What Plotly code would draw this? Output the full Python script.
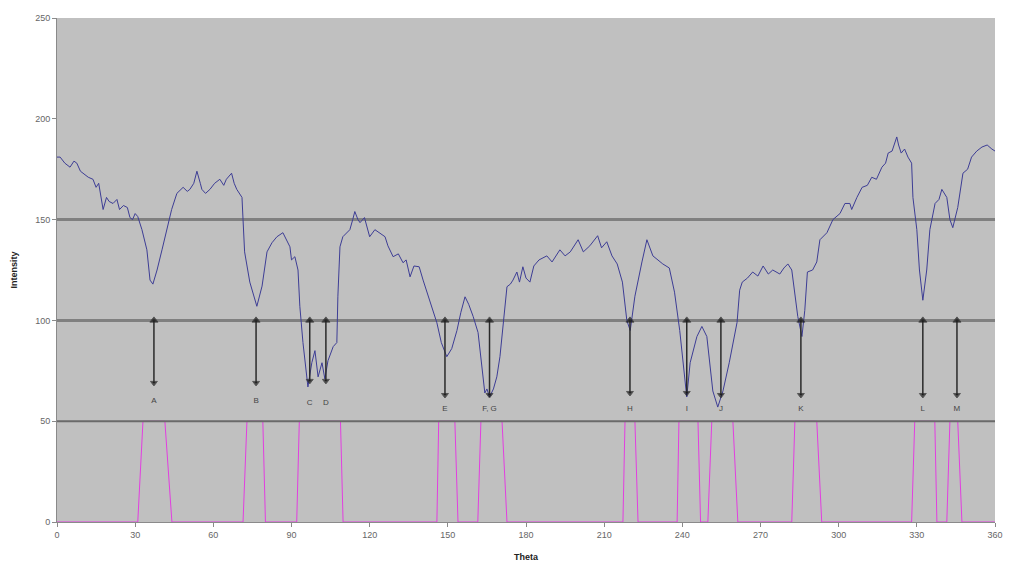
import plotly.graph_objects as go

# ---------------- data ----------------
theta = [0, 1.2, 3, 5, 6.5, 7.6, 9, 10, 12, 13.8, 15, 16, 17.7, 19, 20, 21.5, 23, 24, 25.5, 27,
         28, 29, 30, 31, 32.6, 34.5, 35.7, 36.8, 38.4, 40.3, 42.2, 44, 46, 48.4, 50, 51, 52.5,
         53.7, 55, 55.6, 57, 58.7, 60.5, 62.5, 64, 65, 67, 68, 69, 71, 71.4, 72, 74, 76.7, 78.7,
         80.6, 82.5, 84.4, 86.7, 88, 89.4, 90, 91.3, 92.5, 93.2, 94.4, 96.3, 97.8, 99, 100.2,
         101.7, 102.8, 104, 106, 107.4, 107.8, 108.6, 109.7, 111, 112.4, 113.5, 114.3, 115.5,
         116.3, 118, 119, 120, 122, 124, 125.9, 127, 129, 131, 132.8, 134, 135.5, 137, 139,
         140.5, 142, 144, 145.8, 147.5, 149.6, 151.5, 153.5, 155, 156.6, 158, 159.7, 161.6, 163,
         164.2, 165, 166, 167.5, 168.8, 170, 171, 172.7, 174, 175, 176.5, 177.5, 178.8, 180,
         181.5, 183, 185, 188, 190, 193, 195, 197, 200, 202, 204.5, 207.5, 209, 211, 213, 215,
         217, 218.7, 220, 221.8, 224.5, 226.4, 228.7, 230.5, 232.5, 235, 237, 239, 240.5, 241.7,
         243, 245.6, 247.5, 249.4, 251.7, 253.6, 255.6, 258, 261, 262, 263, 265, 267, 269, 271,
         273, 274.7, 277.4, 279, 280.5, 282, 283, 284.3, 285.9, 287, 288, 290, 291.6, 292.8,
         295.5, 297.8, 300.5, 302.4, 304.3, 305, 307, 309, 311, 312.7, 314.5, 316.6, 318, 319,
         320.5, 322.3, 323, 324, 325.3, 326.6, 328, 328.5, 330, 331, 332.3, 333.8, 335, 337,
         338.5, 339.6, 341.5, 342.7, 343.8, 345, 345.7, 347.7, 349.5, 351, 353, 355, 357, 358.8,
         360]
intensity = [181, 181, 178, 176, 179, 178, 174, 173, 171, 170, 166, 168, 155, 161, 159, 158, 160,
             155, 157, 156, 151, 150, 153, 151.5, 145, 135, 120, 118, 125, 135, 145, 155, 163, 166,
             164, 165, 168, 174, 168, 165, 163, 165, 168, 170, 167, 170, 173, 168, 165, 161, 150,
             134, 119, 107, 117, 134, 138.5, 141.5, 143.5, 140, 136.5, 130, 131.6, 125, 107, 89, 67,
             79, 85, 72, 79, 71, 80, 87, 89, 112, 136.5, 141.5, 143, 145, 150, 154, 150, 148.5, 151,
             146, 141.5, 145, 143, 141.5, 137, 131.6, 133, 128.6, 130, 121.6, 127, 126.6, 120,
             113.7, 106, 98.8, 89, 82, 86, 95, 104, 111.7, 108, 102, 94, 78, 64, 66, 62, 66, 72, 82,
             95, 116.7, 118, 120, 124, 119, 126.6, 121, 119, 127, 130, 132, 129, 135, 132, 134, 140,
             134, 137, 142, 136, 139, 132, 128, 119, 100, 95, 112, 129, 140, 132, 130, 128, 126,
             114, 95, 75, 62, 79, 92, 97, 92, 65, 57, 65, 79, 99, 115, 119, 121, 124, 122, 127, 123,
             125, 123, 126, 128, 125, 115, 102, 92, 105, 124, 125, 129, 140, 143.5, 150, 153, 158,
             158, 155, 161, 166, 167, 171, 170, 176, 178, 183, 184, 191, 187, 183, 185, 181, 178,
             161, 145, 125, 110, 125, 145, 158, 160, 165, 161, 150, 146, 152, 156, 173, 175, 181,
             184, 186, 187, 185, 184]

# magenta pulse series (theta, value)
pulse_theta = [0, 31.0, 33.0, 41.4, 44.1, 71.4, 72.9, 79.0, 80.0, 92.0, 93.0, 108.8, 109.8,
               145.8, 146.5, 152.7, 153.9, 161.5, 162.7, 170.8, 172.7, 217.2, 218.0, 221.8,
               223.0, 238.0, 238.7, 246.0, 247.0, 249.8, 251.3, 259.4, 261.3, 282.0, 283.2,
               291.6, 293.5, 328.0, 329.2, 336.9, 337.7, 341.5, 342.7, 345.7, 347.3, 360]
pulse_value = [0, 0, 50, 50, 0, 0, 50, 50, 0, 0, 50, 50, 0,
               0, 50, 50, 0, 0, 50, 50, 0, 0, 50, 50,
               0, 0, 50, 50, 0, 0, 50, 50, 0, 0, 50,
               50, 0, 0, 50, 50, 0, 0, 50, 50, 0, 0]

# reference levels
level_values = [150, 100, 50]

# minima markers
arrow_labels = ["A", "B", "C", "D", "E", "F, G", "H", "I", "J", "K", "L", "M"]
arrow_theta = [37.2, 76.4, 97.0, 103.2, 148.9, 166.0, 219.9, 241.7, 254.8, 285.5, 332.3, 345.4]
arrow_top = [100] * 12
arrow_bottom = [69, 69, 70, 70, 63, 63, 64, 64, 63, 63, 63, 63]
label_y = [60, 60, 59, 59, 56, 56, 56, 56, 56, 56, 56, 56]

x_ticks = [0, 30, 60, 90, 120, 150, 180, 210, 240, 270, 300, 330, 360]
y_ticks = [0, 50, 100, 150, 200, 250]

# ---------------- figure ----------------
fig = go.Figure()

fig.add_trace(go.Scatter(x=pulse_theta, y=pulse_value, mode="lines",
                         line=dict(color="#e23ee0", width=1), hoverinfo="skip"))

level_widths = [3, 3, 2]
level_colors = ["#808080", "#808080", "#6a6a6a"]
for lv, w, c in zip(level_values, level_widths, level_colors):
    fig.add_trace(go.Scatter(x=[x_ticks[0], x_ticks[-1]], y=[lv, lv], mode="lines",
                             line=dict(color=c, width=w), hoverinfo="skip"))

fig.add_trace(go.Scatter(x=theta, y=intensity, mode="lines",
                         line=dict(color="#3d3d95", width=1)))

for t, top, bot in zip(arrow_theta, arrow_top, arrow_bottom):
    fig.add_trace(go.Scatter(x=[t, t], y=[top, bot], mode="lines+markers",
                             line=dict(color="#2a2a2a", width=1.5),
                             marker=dict(color="#111111", size=[7, 6],
                                         symbol=["triangle-up", "triangle-down"]),
                             hoverinfo="skip"))

fig.add_trace(go.Scatter(x=arrow_theta, y=label_y, mode="text", text=arrow_labels,
                         textfont=dict(size=8, color="#444444", family="Liberation Sans"),
                         textposition="middle center", hoverinfo="skip"))

fig.update_layout(
    width=1009, height=565,
    margin=dict(l=57, r=14, t=18, b=43),
    paper_bgcolor="white", plot_bgcolor="#c0c0c0",
    showlegend=False,
    font=dict(family="Liberation Sans", size=9, color="#666666"),
)
fig.update_xaxes(range=[0, 360], tickvals=x_ticks, showgrid=False, zeroline=False,
                 automargin=False,
                 showline=True, linecolor="#8a8a8a", linewidth=1,
                 ticks="outside", ticklen=4, tickcolor="#8a8a8a",
                 tickfont=dict(size=9, color="#666666"),
                 title=dict(text="<b>Theta</b>", font=dict(size=9, color="#222222"), standoff=14))
fig.update_yaxes(range=[0, 250], tickvals=y_ticks, showgrid=False, zeroline=False,
                 automargin=False,
                 showline=True, linecolor="#8a8a8a", linewidth=1,
                 ticks="outside", ticklen=4, tickcolor="#8a8a8a",
                 tickfont=dict(size=9, color="#666666"),
                 title=dict(text="<b>Intensity</b>", font=dict(size=9, color="#222222"), standoff=16))

fig.write_html("out.html", config={"displayModeBar": False},
               post_script="document.body.style.margin='0';document.body.style.overflow='hidden';")
